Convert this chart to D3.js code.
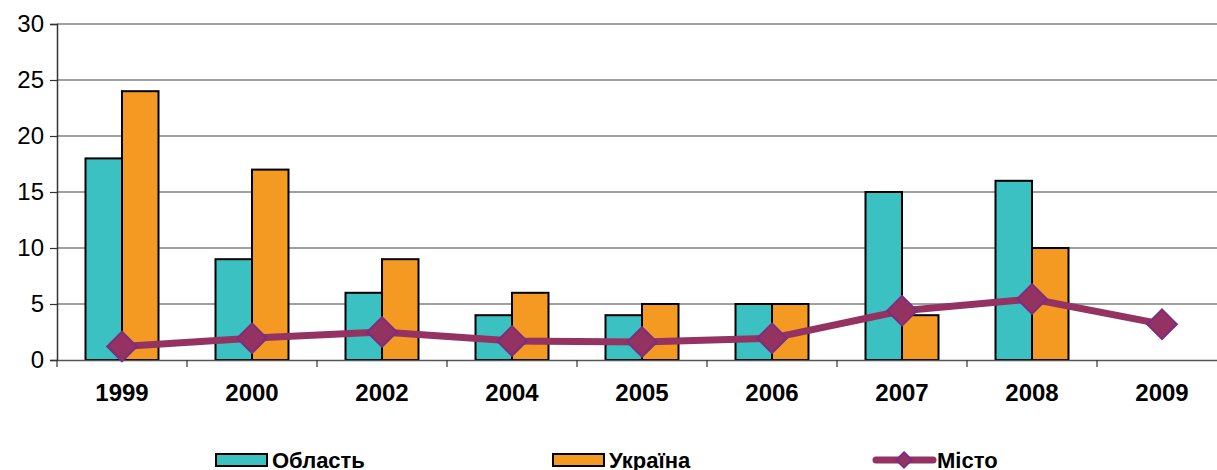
<!DOCTYPE html>
<html>
<head>
<meta charset="utf-8">
<script src="https://cdn.jsdelivr.net/npm/d3@7"></script>
<style>
  body { margin: 0; background: #fff; }
  text { font-family: Arial, "Liberation Sans", sans-serif; }
</style>
</head>
<body>
<div id="chart"></div>
<script>
// data
var years = ["1999", "2000", "2002", "2004", "2005", "2006", "2007", "2008", "2009"];
var oblast = [18, 9, 6, 4, 4, 5, 15, 16, null];
var ukraina = [24, 17, 9, 6, 5, 5, 4, 10, null];
var misto = [1.2, 1.95, 2.5, 1.7, 1.6, 1.95, 4.4, 5.45, 3.2];
var yTicks = [0, 5, 10, 15, 20, 25, 30];

var W = 1217, H = 470;
var margin = {top: 24, left: 57, bottom: 110};
var plotW = 130 * 9, plotH = H - margin.top - margin.bottom;

var svg = d3.select("#chart").append("svg")
    .attr("width", W).attr("height", H);

var g = svg.append("g")
    .attr("transform", `translate(${margin.left},${margin.top})`);

// scales
var x = d3.scaleBand().domain(years).range([0, plotW]).paddingInner(0).paddingOuter(0);
var y = d3.scaleLinear().domain([0, 30]).range([plotH, 0]);

var barW = 36.5;

// gridlines
g.append("g")
    .selectAll("line")
    .data(yTicks.filter(d => d > 0))
    .join("line")
    .attr("x1", 0).attr("x2", plotW)
    .attr("y1", d => y(d)).attr("y2", d => y(d))
    .attr("stroke", "#808080").attr("stroke-width", 1.3);

// y axis
var yAxis = d3.axisLeft(y).tickValues(yTicks).tickSize(7).tickPadding(6);
g.append("g").call(yAxis)
    .call(s => s.select(".domain").attr("stroke", "#333").attr("stroke-width", 1.5))
    .call(s => s.selectAll(".tick line").attr("stroke", "#333").attr("stroke-width", 1.2))
    .call(s => s.selectAll(".tick text").style("font-size", "24px").attr("fill", "#000"));

// bars
var bars = g.append("g");
years.forEach(function(yr, i) {
  var cx = x(yr) + x.bandwidth() / 2;
  if (oblast[i] != null) {
    bars.append("rect")
      .attr("x", cx - barW).attr("y", y(oblast[i]))
      .attr("width", barW).attr("height", y(0) - y(oblast[i]))
      .attr("fill", "#3cc1c2").attr("stroke", "#000").attr("stroke-width", 2);
  }
  if (ukraina[i] != null) {
    bars.append("rect")
      .attr("x", cx).attr("y", y(ukraina[i]))
      .attr("width", barW).attr("height", y(0) - y(ukraina[i]))
      .attr("fill", "#f49a22").attr("stroke", "#000").attr("stroke-width", 2);
  }
});

// x axis
var xAxis = d3.axisBottom(x).tickSize(0).tickPadding(24);
var xg = g.append("g").attr("transform", `translate(0,${plotH})`).call(xAxis);
xg.select(".domain").attr("stroke", "#555").attr("stroke-width", 1.5);
xg.selectAll(".tick text").style("font-size", "24px").style("font-weight", "bold").attr("fill", "#000");
// tick marks between categories
xg.append("g").selectAll("line")
    .data(years)
    .join("line")
    .attr("x1", d => x(d)).attr("x2", d => x(d))
    .attr("y1", 0).attr("y2", 7)
    .attr("stroke", "#333").attr("stroke-width", 1.2);

// line series
var pts = years.map((d, i) => ({year: d, v: misto[i]}));
var line = d3.line()
    .x(d => x(d.year) + x.bandwidth() / 2)
    .y(d => y(d.v));

g.append("path")
    .datum(pts)
    .attr("d", line)
    .attr("fill", "none")
    .attr("stroke", "#943262")
    .attr("stroke-width", 7)
    .attr("stroke-linejoin", "round");

var diamond = d3.symbol().type(d3.symbolDiamond2).size(560);
g.append("g").selectAll("path")
    .data(pts)
    .join("path")
    .attr("d", diamond)
    .attr("transform", d => `translate(${x(d.year) + x.bandwidth() / 2},${y(d.v)})`)
    .attr("fill", "#943262")
    .attr("stroke", "#7b2e80")
    .attr("stroke-width", 2);

// legend
var leg = svg.append("g").attr("transform", "translate(0,460)");
var legItems = [
  {label: "Область", x: 216, type: "bar", color: "#3cc1c2"},
  {label: "Україна", x: 553, type: "bar", color: "#f49a22"},
  {label: "Місто", x: 876, type: "line", color: "#943262"}
];
legItems.forEach(function(d) {
  if (d.type === "bar") {
    leg.append("rect")
      .attr("x", d.x).attr("y", -6).attr("width", 51).attr("height", 12)
      .attr("fill", d.color).attr("stroke", "#000").attr("stroke-width", 2);
  } else {
    leg.append("line")
      .attr("x1", d.x).attr("x2", d.x + 57).attr("y1", 0).attr("y2", 0)
      .attr("stroke", d.color).attr("stroke-width", 7).attr("stroke-linecap", "round");
    leg.append("path")
      .attr("d", d3.symbol().type(d3.symbolDiamond2).size(150))
      .attr("transform", `translate(${d.x + 28},0)`)
      .attr("fill", d.color).attr("stroke", "#7b2e80").attr("stroke-width", 2);
  }
  leg.append("text")
    .attr("x", d.type === "bar" ? d.x + 56 : d.x + 61)
    .attr("y", 8)
    .style("font-size", "22px").style("font-weight", "bold")
    .text(d.label);
});
</script>
</body>
</html>
